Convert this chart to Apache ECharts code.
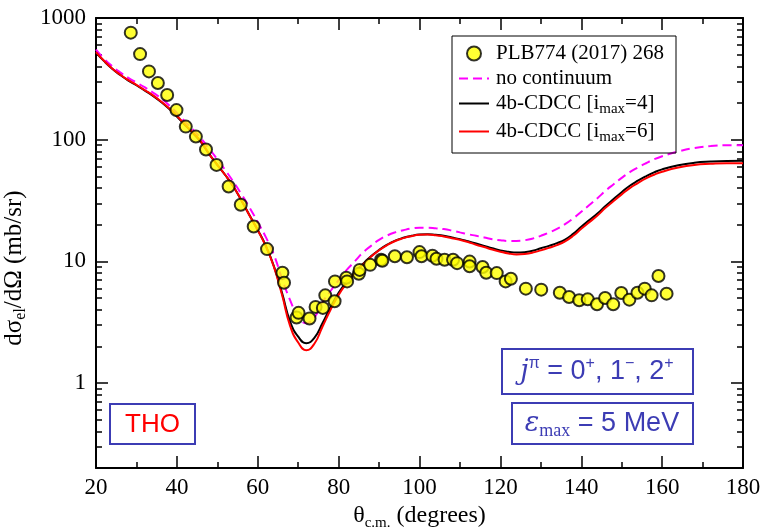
<!DOCTYPE html>
<html>
<head>
<meta charset="utf-8">
<script src="https://cdn.jsdelivr.net/npm/echarts@6/dist/echarts.min.js"></script>
<style>
  html, body { margin: 0; padding: 0; background: #fff; }
  #chart { width: 763px; height: 528px; }
</style>
</head>
<body>
<div id="chart"></div>
<script>
// angles (degrees) where the calculated curves are read
const thetaCurve = [20, 22, 24, 26, 28, 30, 32, 34, 36, 38, 40, 42, 44, 46, 48, 50, 52, 54, 56, 58,
  60, 62, 64, 66, 68, 70, 72, 74, 76, 78, 80, 82, 84, 86, 88, 90, 92, 94, 96, 98,
  100, 102, 104, 106, 108, 110, 112, 114, 116, 118, 120, 122, 124, 126, 128, 130, 132, 134, 136, 138,
  140, 142, 144, 146, 148, 150, 152, 154, 156, 158, 160, 164, 168, 172, 176, 180]

// no continuum (magenta dashed)
const noContY = [550, 462, 402, 357, 322, 295, 270, 245, 220, 193, 166, 141, 121, 102, 84, 69, 56, 45, 35.5, 27.5,
  21, 15.8, 11.3, 7.2, 4.8, 3.5, 3.1, 3.45, 4.6, 5.7, 7.0, 8.5, 10.0, 11.8, 13.4, 15.0, 16.3, 17.3, 18.0, 18.6,
  18.9, 18.9, 18.7, 18.4, 17.9, 17.3, 16.7, 16.2, 15.7, 15.2, 14.9, 14.7, 14.7, 14.9, 15.4, 16.2, 17.2, 18.5, 20.2, 22.5,
  25.5, 29.0, 33.0, 38.0, 43.0, 48.5, 54.0, 59.0, 64.0, 69.0, 73.0, 80.0, 85.5, 88.5, 90.0, 90.0]

// 4b-CDCC imax=4 (black)
const cdcc4Y = [520, 442, 383, 340, 306, 280, 254, 230, 205, 180, 155, 132, 113, 95, 76, 62, 51, 41, 31.5, 23.8,
  18.1, 13.4, 9.1, 5.5, 3.2, 2.4, 2.12, 2.35, 3.1, 4.2, 5.5, 6.8, 8.1, 9.5, 11.0, 12.4, 13.7, 14.8, 15.6, 16.2,
  16.6, 16.7, 16.5, 16.2, 15.7, 15.2, 14.6, 14.0, 13.4, 12.8, 12.3, 12.0, 11.8, 11.9, 12.2, 12.8, 13.4, 14.1, 15.1, 16.8,
  19.2, 21.8, 24.7, 28.5, 32.5, 37.0, 41.8, 46.0, 50.0, 53.8, 57.0, 61.5, 64.5, 66.0, 66.8, 67.0]

// 4b-CDCC imax=6 (red)
const cdcc6Y = [525, 445, 385, 342, 308, 282, 256, 232, 207, 182, 157, 133, 114, 96, 76, 62, 51, 41, 31.5, 23.7,
  18.0, 13.3, 9.0, 5.3, 2.95, 2.15, 1.86, 2.1, 2.9, 4.0, 5.3, 6.6, 8.0, 9.4, 10.9, 12.3, 13.6, 14.7, 15.5, 16.1,
  16.5, 16.6, 16.4, 16.0, 15.5, 15.0, 14.4, 13.7, 13.1, 12.5, 12.0, 11.6, 11.4, 11.5, 11.8, 12.3, 12.9, 13.6, 14.6, 16.2,
  18.5, 21.0, 23.8, 27.5, 31.3, 35.5, 40.0, 44.0, 48.0, 51.5, 54.5, 59.0, 62.0, 63.3, 64.0, 64.0]

// measured points PLB774 (2017) 268
const expTheta = [28.6, 30.9, 33.1, 35.3, 37.6, 39.9, 42.2, 44.7, 47.2, 49.8, 52.8, 55.8, 59.0, 62.3, 66.1, 66.5,
  69.6, 70.1, 72.8, 74.3, 76.1, 76.7, 79.0, 79.1, 81.9, 82.1, 85.0, 85.2, 87.8, 90.5, 90.8, 93.9, 96.9,
  100.0, 100.5, 103.2, 104.2, 106.2, 108.3, 109.3, 112.4, 112.4, 115.6, 116.5, 119.1, 121.3, 122.6, 126.3,
  130.1, 134.7, 137.0, 139.5, 141.6, 143.9, 145.9, 147.9, 149.9, 151.9, 153.9, 155.7, 157.4, 159.1, 161.1]
const expSigma = [758, 505, 364, 292, 233, 175, 128, 106, 83, 62, 41.2, 29.2, 19.3, 12.6, 8.05, 6.67,
  3.45, 3.77, 3.39, 4.22, 4.14, 5.25, 4.69, 6.84, 7.33, 6.84, 7.91, 8.5, 9.35, 10.3, 10.1, 11.0, 10.8,
  11.9, 11.0, 11.1, 10.5, 10.3, 10.3, 9.66, 9.95, 9.1, 8.97, 8.05, 8.0, 6.84, 7.19, 5.96,
  5.85, 5.52, 5.09, 4.78, 4.87, 4.43, 5.0, 4.43, 5.49, 4.84, 5.52, 5.96, 5.25, 7.57, 5.42]

const yMajor = [1, 10, 100, 1000]
const yMinor = [0.3, 0.4, 0.5, 0.6, 0.7, 0.8, 0.9, 2, 3, 4, 5, 6, 7, 8, 9,
  20, 30, 40, 50, 60, 70, 80, 90, 200, 300, 400, 500, 600, 700, 800, 900]

const serif = 'Liberation Serif'
const blue = '#3c3cb4'

function zipXY(xs, ys) {
  return xs.map((x, i) => [x, ys[i]])
}

function xAx(pos) {
  return {
    type: 'value', position: pos, min: 20, max: 180, interval: 20,
    axisLine: { show: true, lineStyle: { color: '#000', width: 2 } },
    axisTick: { show: true, inside: true, length: 12, lineStyle: { color: '#000', width: 1.5 } },
    minorTick: { show: true, splitNumber: 2, length: 6, lineStyle: { color: '#000', width: 1.5 } },
    splitLine: { show: false },
    axisLabel: { show: pos === 'bottom', fontFamily: serif, fontSize: 23, color: '#000', margin: 8 }
  }
}

function yAx(pos, ticks, len, withLine) {
  return {
    type: 'log', logBase: 10, position: pos, min: 0.2, max: 1000,
    axisLine: { show: withLine, lineStyle: { color: '#000', width: 2 } },
    axisTick: { show: true, inside: true, length: len, customValues: ticks, lineStyle: { color: '#000', width: 1.5 } },
    splitLine: { show: false },
    axisLabel: {
      show: pos === 'left' && withLine, customValues: yMajor,
      formatter: v => String(v),
      fontFamily: serif, fontSize: 23, color: '#000', margin: 10
    }
  }
}

const chart = echarts.init(document.getElementById('chart'))

const option = {
  animation: false,
  backgroundColor: '#fff',
  grid: { left: 96, right: 20, top: 18, bottom: 60, containLabel: false, outerBoundsMode: 'none' },
  xAxis: [
    Object.assign(xAx('bottom'), {
      name: '{a|θ}{sub|c.m.}{a| (degrees)}',
      nameLocation: 'middle', nameGap: 31,
      nameTextStyle: {
        rich: {
          a: { fontFamily: serif, fontSize: 24, color: '#000' },
          sub: { fontFamily: serif, fontSize: 15, color: '#000', verticalAlign: 'bottom', padding: [14, 0, 0, 0] }
        }
      }
    }),
    xAx('top')
  ],
  yAxis: [
    Object.assign(yAx('left', yMajor, 12, true), {
      name: '{a|dσ}{sub|el}{a|/dΩ (mb/sr)}',
      nameLocation: 'middle', nameGap: 60, nameRotate: 90,
      nameTextStyle: {
        padding: [0, 50, 0, 0],
        rich: {
          a: { fontFamily: serif, fontSize: 25, color: '#000' },
          sub: { fontFamily: serif, fontSize: 16, color: '#000', verticalAlign: 'bottom', padding: [14, 0, 0, 0] }
        }
      }
    }),
    yAx('left', yMinor, 6, false),
    yAx('right', yMajor, 12, true),
    yAx('right', yMinor, 6, false)
  ],
  legend: {
    orient: 'vertical', left: 452, top: 36,
    padding: [7, 12, 8, 6],
    itemWidth: 30, itemHeight: 14, itemGap: 4,
    borderColor: '#000', borderWidth: 1,
    data: [
      { name: 'PLB774 (2017) 268' },
      { name: 'no continuum', itemStyle: { opacity: 0 } },
      { name: 'cdcc4', itemStyle: { opacity: 0 } },
      { name: 'cdcc6', itemStyle: { opacity: 0 } }
    ],
    formatter: function (name) {
      if (name === 'cdcc4') return '4b-CDCC [i{sub|max}=4]'
      if (name === 'cdcc6') return '4b-CDCC [i{sub|max}=6]'
      return name
    },
    textStyle: {
      fontFamily: serif, fontSize: 21, color: '#000', padding: [0, 0, 0, 2],
      rich: {
        sub: { fontFamily: serif, fontSize: 15, color: '#000', verticalAlign: 'bottom', padding: [12, 0, 0, 0] }
      }
    }
  },
  series: [
    {
      name: 'no continuum', type: 'line', smooth: true, symbol: 'none', z: 2,
      lineStyle: { color: '#ff00ff', width: 2, type: [9, 5] },
      itemStyle: { color: '#ff00ff' },
      data: zipXY(thetaCurve, noContY)
    },
    {
      name: 'cdcc4', type: 'line', smooth: true, symbol: 'none', z: 3,
      lineStyle: { color: '#000', width: 2 },
      itemStyle: { color: '#000' },
      data: zipXY(thetaCurve, cdcc4Y)
    },
    {
      name: 'cdcc6', type: 'line', smooth: true, symbol: 'none', z: 4,
      lineStyle: { color: '#ff0000', width: 2 },
      itemStyle: { color: '#ff0000' },
      data: zipXY(thetaCurve, cdcc6Y)
    },
    {
      name: 'PLB774 (2017) 268', type: 'scatter', symbol: 'circle', symbolSize: 12, z: 5,
      itemStyle: { color: '#ffff00', borderColor: '#000', borderWidth: 2 },
      data: zipXY(expTheta, expSigma)
    }
  ],
  graphic: [
    {
      type: 'rect', shape: { x: 110, y: 404, width: 85, height: 40 },
      style: { fill: 'none', stroke: blue, lineWidth: 2 }
    },
    {
      type: 'text', x: 152.5, y: 425,
      style: { text: 'THO', fill: '#ff0000', font: '26px "Liberation Sans"', align: 'center', verticalAlign: 'middle' }
    },
    {
      type: 'rect', shape: { x: 502, y: 349, width: 191, height: 45 },
      style: { fill: 'none', stroke: blue, lineWidth: 2 }
    },
    {
      type: 'text', x: 597, y: 372,
      style: {
        text: '{it|j}{sup|π}{t| = 0}{sup|+}{t|, 1}{sup|−}{t|, 2}{sup|+}',
        align: 'center', verticalAlign: 'middle',
        rich: {
          it: { fill: blue, font: 'italic 27px "DejaVu Serif"', lineHeight: 32 },
          t: { fill: blue, font: '27px "Liberation Sans"', lineHeight: 32 },
          sup: { fill: blue, font: '16px "Liberation Sans"', verticalAlign: 'top', lineHeight: 16 }
        }
      }
    },
    {
      type: 'rect', shape: { x: 512, y: 403, width: 181, height: 41 },
      style: { fill: 'none', stroke: blue, lineWidth: 2 }
    },
    {
      type: 'text', x: 602, y: 424,
      style: {
        text: '{it|ε}{sub|max}{t| = 5 MeV}',
        align: 'center', verticalAlign: 'middle',
        rich: {
          it: { fill: blue, font: 'italic 27px "DejaVu Serif"', lineHeight: 32 },
          t: { fill: blue, font: '27px "Liberation Sans"', lineHeight: 32 },
          sub: { fill: blue, font: '18px "Liberation Serif"', verticalAlign: 'bottom', lineHeight: 18 }
        }
      }
    }
  ]
}

chart.setOption(option)
</script>
</body>
</html>
